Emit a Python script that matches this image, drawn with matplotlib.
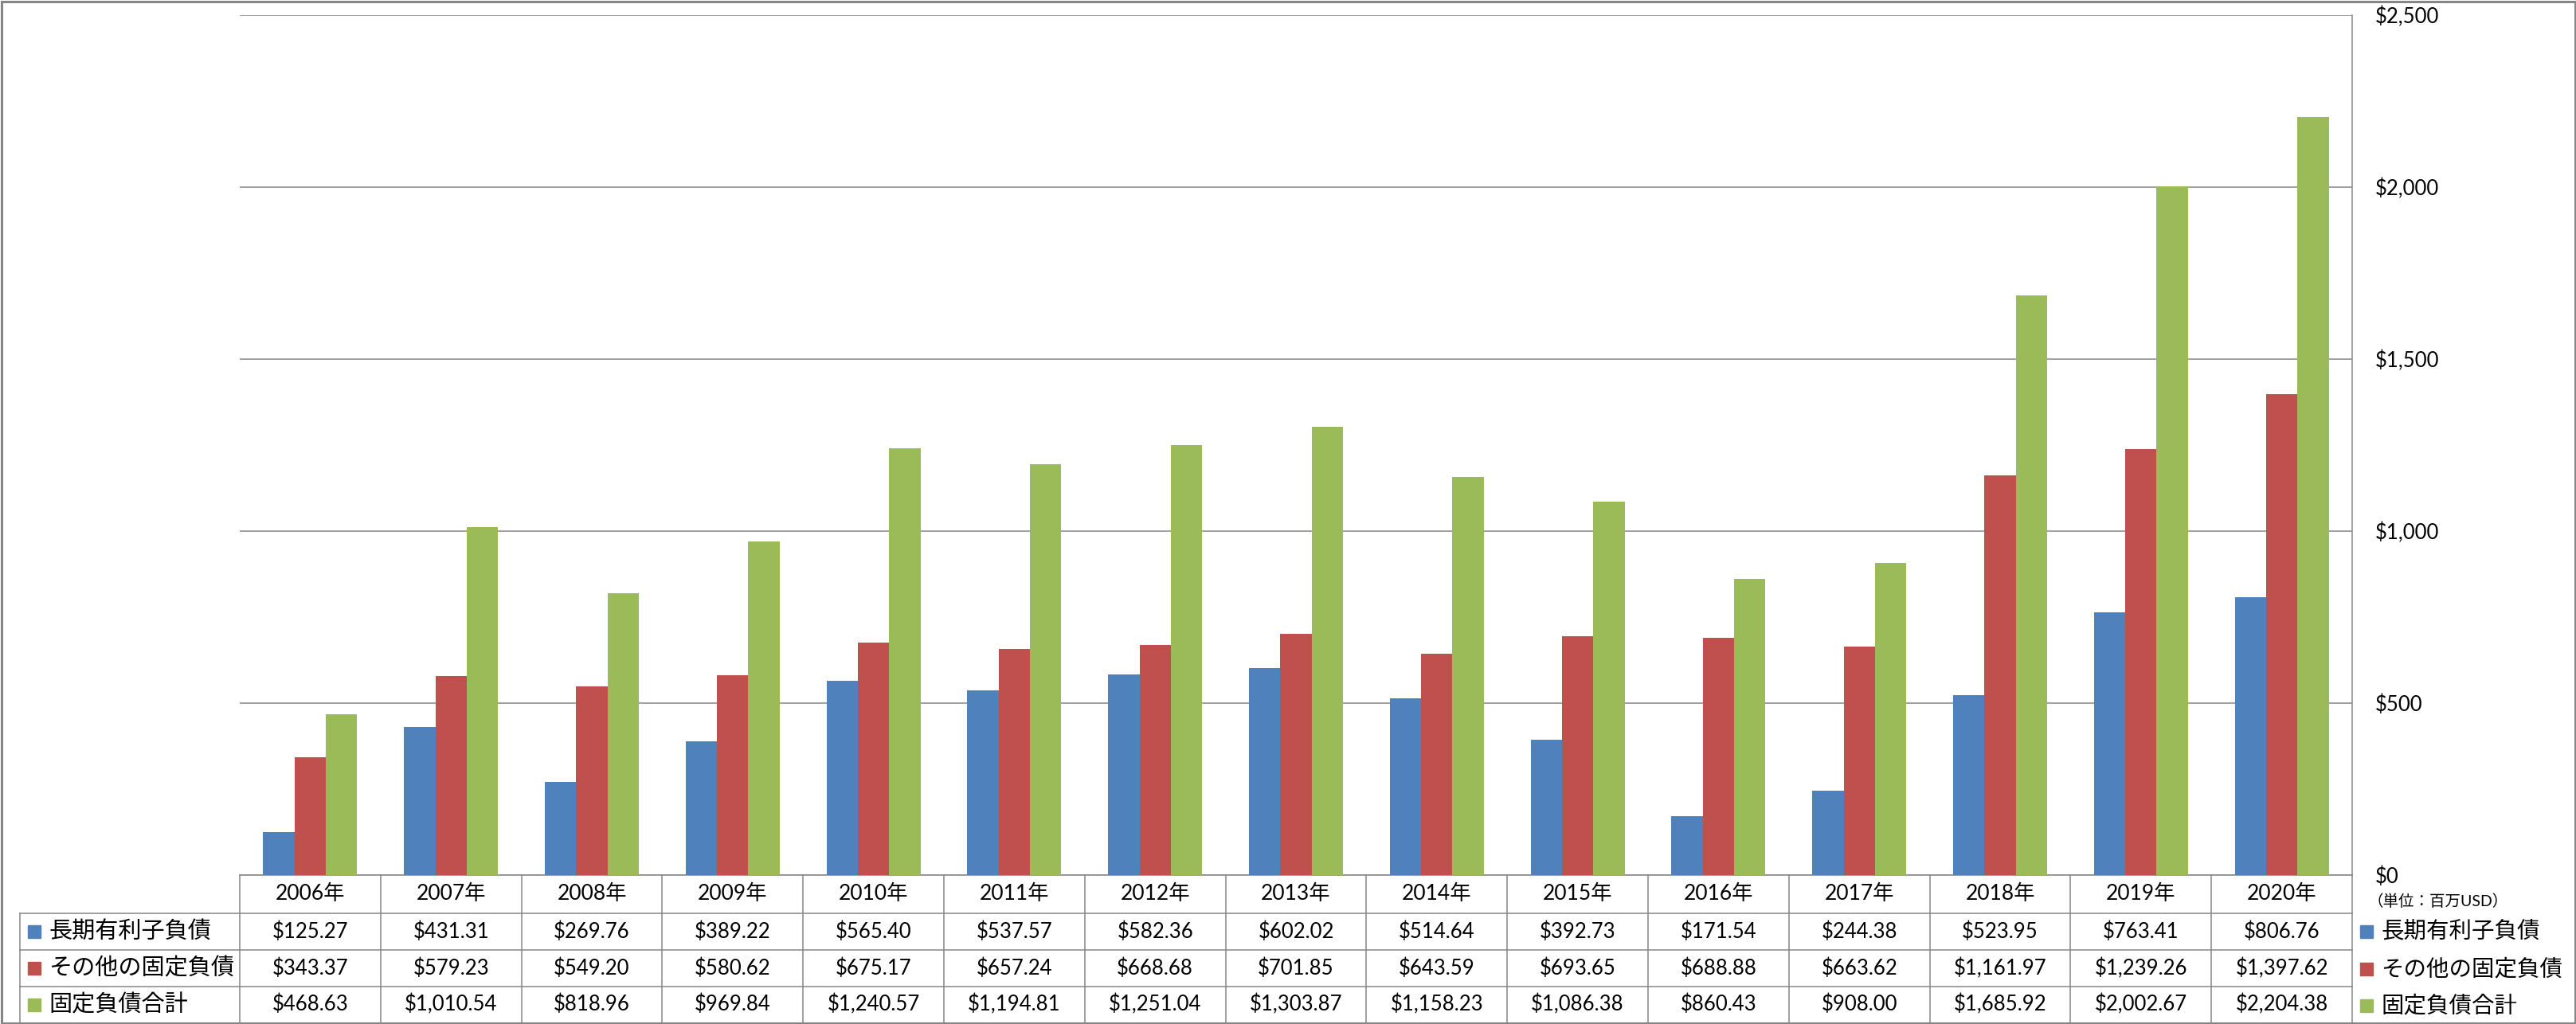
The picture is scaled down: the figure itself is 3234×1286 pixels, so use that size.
import numpy as np
import matplotlib
matplotlib.use('Agg')
import matplotlib.pyplot as plt
from matplotlib.patches import Rectangle

plt.rcParams['font.family'] = ['Lato', 'Noto Sans CJK JP']

# データ（単位：百万USD）
years = ['2006年', '2007年', '2008年', '2009年', '2010年', '2011年', '2012年', '2013年',
         '2014年', '2015年', '2016年', '2017年', '2018年', '2019年', '2020年']
series_names = ['長期有利子負債', 'その他の固定負債', '固定負債合計']
long_term_debt = [125.27, 431.31, 269.76, 389.22, 565.40, 537.57, 582.36, 602.02,
                  514.64, 392.73, 171.54, 244.38, 523.95, 763.41, 806.76]
other_fixed = [343.37, 579.23, 549.20, 580.62, 675.17, 657.24, 668.68, 701.85,
               643.59, 693.65, 688.88, 663.62, 1161.97, 1239.26, 1397.62]
fixed_total = [468.63, 1010.54, 818.96, 969.84, 1240.57, 1194.81, 1251.04, 1303.87,
               1158.23, 1086.38, 860.43, 908.00, 1685.92, 2002.67, 2204.38]
yticks = [0, 500, 1000, 1500, 2000, 2500]
unit_label = '（単位：百万USD）'

colors = ['#4F81BD', '#C0504D', '#9BBB59']
grey = '#868686'
series = [long_term_debt, other_fixed, fixed_total]

W, H = 3234, 1286
x0, x1 = 301, 2953       # plot area left/right (px)
y_plot_top, y_top = 19, 1099
row_lines = [1147, 1193, 1239]
y_bot = 1284
lab_left = 25

fig = plt.figure(figsize=(W / 100, H / 100), dpi=100)

ax = fig.add_axes([x0 / W, 1 - y_top / H, (x1 - x0) / W, (y_top - y_plot_top) / H])
n = len(years)
x = np.arange(n)
bw = 1 / 4.5
for k, (vals, c) in enumerate(zip(series, colors)):
    ax.bar(x + (k - 1) * bw, vals, width=bw, color=c, zorder=3)

ax.set_xlim(-0.5, n - 0.5)
ax.set_ylim(0, 2500)
ax.set_yticks(yticks)
ax.set_yticklabels([f'${v:,}' for v in yticks], fontsize=18.5)
ax.yaxis.tick_right()
ax.tick_params(axis='y', length=0, pad=21)
ax.set_xticks([])
ax.grid(axis='y', color=grey, linewidth=1.1, zorder=0)
for s in ['top', 'left']:
    ax.spines[s].set_visible(False)
for s in ['right', 'bottom']:
    ax.spines[s].set_color(grey)
    ax.spines[s].set_linewidth(1.1)

# データテーブル（ピクセル座標のオーバーレイ）
ov = fig.add_axes([0, 0, 1, 1], zorder=5)
ov.set_xlim(0, W)
ov.set_ylim(H, 0)
ov.axis('off')
ov.patch.set_alpha(0)

cw = (x1 - x0) / n
lw = 1.1
for i in range(n + 1):
    xx = x0 + i * cw
    ov.plot([xx, xx], [y_top, y_bot], color=grey, lw=lw)
ov.plot([lab_left, lab_left], [row_lines[0], y_bot], color=grey, lw=lw)
for yy in row_lines:
    ov.plot([lab_left, x1], [yy, yy], color=grey, lw=lw)

hdr_y = (y_top + row_lines[0]) / 2
for i, yr in enumerate(years):
    ov.text(x0 + (i + 0.5) * cw, hdr_y, yr, ha='center', va='center', fontsize=19)

row_edges = row_lines + [y_bot]
for r, (name, vals, c) in enumerate(zip(series_names, series, colors)):
    yc = (row_edges[r] + row_edges[r + 1]) / 2
    ov.add_patch(Rectangle((35, yc - 8), 16, 16, color=c))
    ov.text(61, yc, name, ha='left', va='center', fontsize=21)
    for i, v in enumerate(vals):
        ov.text(x0 + (i + 0.5) * cw, yc, f'${v:,.2f}', ha='center', va='center', fontsize=18.5)
    # 右側の凡例
    ly = [1170, 1217, 1263][r]
    ov.add_patch(Rectangle((2963, ly - 8), 16, 16, color=c))
    ov.text(2989, ly, name, ha='left', va='center', fontsize=20.5)

ov.text(2972, 1132, unit_label, ha='left', va='center', fontsize=14)

# 外枠
ov.add_patch(Rectangle((1.5, 1.5), W - 3, H - 3, fill=False, edgecolor=grey, linewidth=2.2))

fig.savefig('out.png', dpi=100)
